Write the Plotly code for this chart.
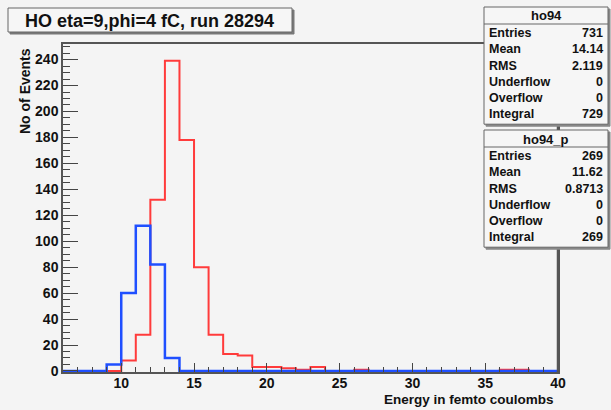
import plotly.graph_objects as go

# ---- data ----
bin_lo = list(range(6, 40))  # lower edges, width 1, 6..39
red_counts = {10: 8, 11: 28, 12: 132, 13: 239, 14: 178, 15: 80, 16: 28, 17: 13,
              18: 12, 19: 3, 20: 3, 21: 2, 22: 1, 23: 3, 26: 1, 36: 1, 37: 1}
blue_counts = {9: 5, 10: 60, 11: 112, 12: 82, 13: 10}
ho94 = [red_counts.get(b, 0) for b in bin_lo]
ho94_p = [blue_counts.get(b, 0) for b in bin_lo]

title_text = "HO eta=9,phi=4 fC, run 28294"
x_title = "Energy in femto coulombs"
y_title = "No of Events"
x_ticks = [10, 15, 20, 25, 30, 35, 40]
y_ticks = list(range(0, 241, 20))
stats1 = ("ho94", [("Entries", "731"), ("Mean", "14.14"), ("RMS", "2.119"),
                   ("Underflow", "0"), ("Overflow", "0"), ("Integral", "729")])
stats2 = ("ho94_p", [("Entries", "269"), ("Mean", "11.62"), ("RMS", "0.8713"),
                     ("Underflow", "0"), ("Overflow", "0"), ("Integral", "269")])

W, H = 611, 410
L, R, T, B = 63, 558, 44, 372
BG = "#f4f4f4"
FONT = "Liberation Sans"

def px(x):
    return (x - L) / (R - L)

def py(y):
    return (B - y) / (B - T)

edges = bin_lo + [bin_lo[-1] + 1]

fig = go.Figure()
fig.add_trace(go.Scatter(x=edges, y=ho94 + [ho94[-1]], mode="lines", line_shape="hv",
                         line=dict(color="#ff3b3b", width=2), showlegend=False))
fig.add_trace(go.Scatter(x=edges, y=ho94_p + [ho94_p[-1]], mode="lines", line_shape="hv",
                         line=dict(color="#1f4fff", width=2.5), showlegend=False))

shapes = []
annotations = []

# title box
shapes.append(dict(type="rect", xref="paper", yref="paper", x0=px(10), x1=px(294), y0=py(10), y1=py(34),
                   line=dict(color="#777", width=1), fillcolor="#7a7a7a", layer="above"))
shapes.append(dict(type="rect", xref="paper", yref="paper", x0=px(8), x1=px(292), y0=py(8), y1=py(32),
                   line=dict(color="#666", width=1), fillcolor="#f6f6f6", layer="above"))
annotations.append(dict(text=title_text, xref="paper", yref="paper", x=px(149), y=py(20.5),
                        showarrow=False, xanchor="center", yanchor="middle",
                        font=dict(family=FONT, size=18, color="#111", weight="bold")))

# right frame emphasis
shapes.append(dict(type="line", xref="paper", yref="paper", x0=1, x1=1, y0=0, y1=1,
                   line=dict(color="#555", width=2.5), layer="above"))


def stats_box(top, name, rows):
    x0, x1 = 484, 608
    hdr = 17
    rh = 16.2
    bottom = top + hdr + rh * len(rows) + 3
    shapes.append(dict(type="rect", xref="paper", yref="paper", x0=px(x0 + 2), x1=px(x1 + 2),
                       y0=py(top + 2), y1=py(bottom + 2), line=dict(color="#888", width=1),
                       fillcolor="#888", layer="above"))
    shapes.append(dict(type="rect", xref="paper", yref="paper", x0=px(x0), x1=px(x1),
                       y0=py(top), y1=py(bottom), line=dict(color="#666", width=1),
                       fillcolor="#f6f6f6", layer="above"))
    shapes.append(dict(type="line", xref="paper", yref="paper", x0=px(x0), x1=px(x1),
                       y0=py(top + hdr), y1=py(top + hdr), line=dict(color="#666", width=1), layer="above"))
    annotations.append(dict(text=name, xref="paper", yref="paper", x=px((x0 + x1) / 2),
                            y=py(top + hdr / 2 + 0.5), showarrow=False, xanchor="center", yanchor="middle",
                            font=dict(family=FONT, size=13, color="#111", weight="bold")))
    for i, (k, v) in enumerate(rows):
        yc = top + hdr + rh * (i + 0.5) + 1
        annotations.append(dict(text=k, xref="paper", yref="paper", x=px(x0 + 3), y=py(yc),
                                showarrow=False, xanchor="left", yanchor="middle",
                                font=dict(family=FONT, size=12.5, color="#111", weight="bold")))
        annotations.append(dict(text=v, xref="paper", yref="paper", x=px(x1 - 3), y=py(yc),
                                showarrow=False, xanchor="right", yanchor="middle",
                                font=dict(family=FONT, size=12.5, color="#111", weight="bold")))


stats_box(7, *stats1)
stats_box(130, *stats2)

# axis titles
annotations.append(dict(text=y_title, xref="paper", yref="paper", x=px(25), y=py(46),
                        showarrow=False, xanchor="center", yanchor="top", textangle=-90,
                        font=dict(family=FONT, size=14, color="#111", weight="bold")))
annotations.append(dict(text=x_title, xref="paper", yref="paper", x=px(556), y=py(399),
                        showarrow=False, xanchor="right", yanchor="middle",
                        font=dict(family=FONT, size=13.5, color="#111", weight="bold")))

fig.update_layout(
    width=W, height=H,
    margin=dict(l=L, r=W - R, t=T, b=H - B),
    paper_bgcolor=BG, plot_bgcolor=BG,
    shapes=shapes, annotations=annotations,
    xaxis=dict(range=[6, 40], tickmode="array", tickvals=x_ticks,
               ticktext=[str(v) for v in x_ticks],
               ticks="inside", ticklen=9, tickcolor="#444", tickwidth=1,
               minor=dict(dtick=1, tick0=0, ticks="inside", ticklen=5, tickcolor="#444"),
               showgrid=False, zeroline=False, showline=True, linecolor="#555", linewidth=1.5,
               mirror=True, tickfont=dict(family=FONT, size=14, color="#111", weight="bold"),
               ticklabelstandoff=-3),
    yaxis=dict(range=[-0.8, 252], tickmode="array", tickvals=y_ticks,
               ticks="inside", ticklen=15, tickcolor="#444", tickwidth=1,
               minor=dict(dtick=5, tick0=0, ticks="inside", ticklen=7.5, tickcolor="#444"),
               showgrid=False, zeroline=False, showline=True, linecolor="#555", linewidth=1.5,
               mirror=True, tickfont=dict(family=FONT, size=14, color="#111", weight="bold"),
               ticklabelstandoff=0),
)

fig.write_html("out.html")
